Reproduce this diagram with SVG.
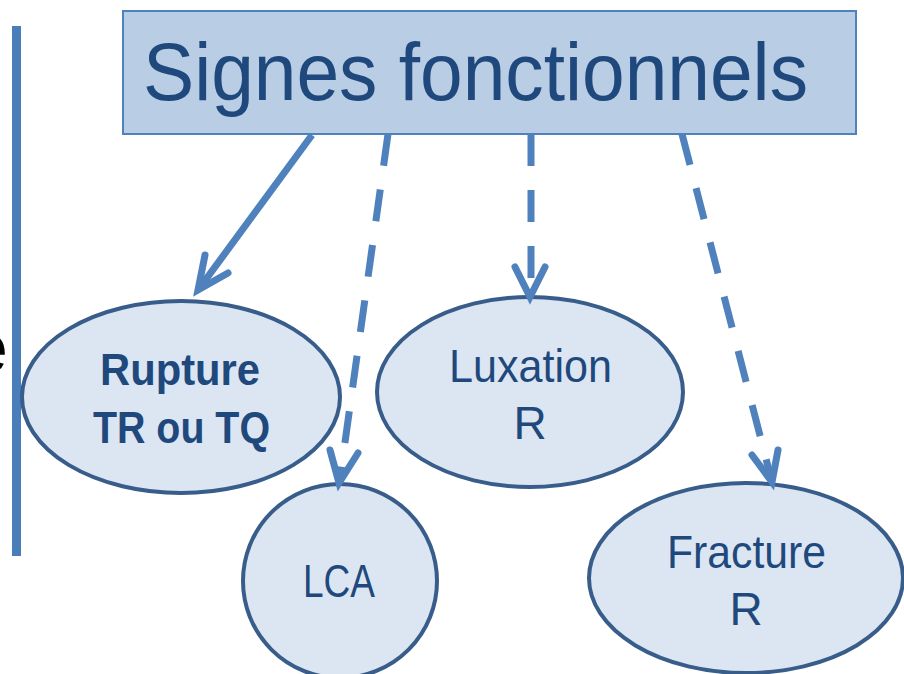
<svg xmlns="http://www.w3.org/2000/svg" width="904" height="674" viewBox="0 0 904 674">
<style>
.node ellipse{fill:#dce6f2;stroke:#385d8a;stroke-width:4}
.lbl{font-family:"Liberation Sans",Arial,sans-serif;fill:#1f497d;text-anchor:middle}
.conn{fill:none;stroke:#4f81bd;stroke-width:7}
.dash{stroke-dasharray:32 24}
.head{fill:none;stroke:#4f81bd;stroke-width:7;stroke-linecap:round;stroke-linejoin:miter}
</style>
<rect x="0" y="0" width="904" height="674" fill="#ffffff"/>
<rect x="12" y="26" width="9" height="530" fill="#4a7ebb"/>
<text x="-31" y="372" font-family="Liberation Sans, Arial, sans-serif" font-size="70" fill="#000000">e</text>
<g id="title">
<rect x="123" y="11" width="733" height="123" fill="#b9cde5" stroke="#4f81bd" stroke-width="2"/>
<text class="lbl" x="475.5" y="100" font-size="82" textLength="665" lengthAdjust="spacingAndGlyphs">Signes fonctionnels</text>
</g>
<g id="rupture" class="node">
<ellipse cx="181" cy="397" rx="159" ry="96"/>
<text class="lbl" x="180" y="385" font-size="44" font-weight="bold" textLength="160" lengthAdjust="spacingAndGlyphs">Rupture</text>
<text class="lbl" x="181.5" y="443" font-size="44" font-weight="bold" textLength="177" lengthAdjust="spacingAndGlyphs">TR ou TQ</text>
</g>
<g id="luxation" class="node">
<ellipse cx="530" cy="392" rx="153" ry="95"/>
<text class="lbl" x="530.5" y="382" font-size="46" textLength="163" lengthAdjust="spacingAndGlyphs">Luxation</text>
<text class="lbl" x="530" y="439" font-size="46">R</text>
</g>
<g id="lca" class="node">
<ellipse cx="340" cy="581" rx="97" ry="97"/>
<text class="lbl" x="339" y="597" font-size="46" textLength="72" lengthAdjust="spacingAndGlyphs">LCA</text>
</g>
<g id="fracture" class="node">
<ellipse cx="746" cy="578" rx="157" ry="95"/>
<text class="lbl" x="746.5" y="568" font-size="46" textLength="159" lengthAdjust="spacingAndGlyphs">Fracture</text>
<text class="lbl" x="746" y="625" font-size="46">R</text>
</g>
<g id="connectors">
<line class="conn" x1="312" y1="135" x2="201" y2="286"/>
<polyline class="head" points="205,255 198,290 228,273"/>
<line class="conn dash" x1="388" y1="134" x2="340" y2="478"/>
<polyline class="head" points="330,450 339,483 358,453"/>
<line class="conn dash" x1="531" y1="134" x2="531" y2="292"/>
<polyline class="head" points="515,267 530,297 545,267"/>
<line class="conn dash" x1="682" y1="134" x2="771" y2="478"/>
<polyline class="head" points="752,455 772,482 778,450"/>
</g>
</svg>
